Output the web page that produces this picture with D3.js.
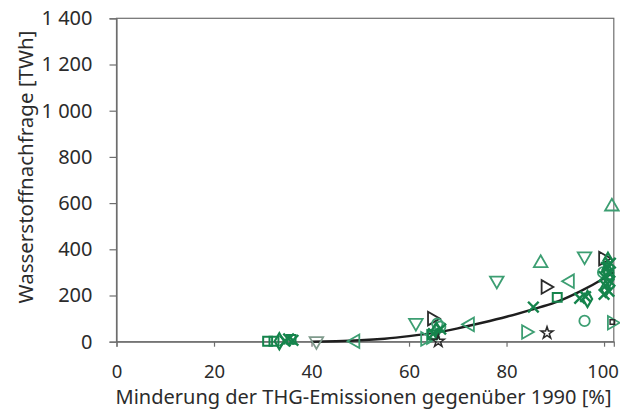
<!DOCTYPE html>
<html><head><meta charset="utf-8">
<script src="https://cdn.jsdelivr.net/npm/d3@7"></script>
<style>
html,body{margin:0;padding:0;background:#fff;}
svg{display:block;font-family:"Noto Sans",sans-serif;}
</style></head>
<body><svg id="c" width="620" height="416"></svg>
<script>
// ---- data ----
const xTicks = [0, 20, 40, 60, 80, 100];
const yTicks = [0, 200, 400, 600, 800, 1000, 1200, 1400];
const yTickLabels = ["0", "200", "400", "600", "800", "1\u00a0000", "1\u00a0200", "1\u00a0400"];
const xTitle = "Minderung der THG-Emissionen gegenüber 1990 [%]";
const yTitle = "Wasserstoffnachfrage [TWh]";

// marker series: [x (% reduction), y (TWh)]
const triUpGreen    = [[87, 340], [101.6, 585]];
const triDownGreen  = [[61.4, 82], [78, 265], [96, 370]];
const triDownGrey   = [[41, 3]];
const triLeftGreen  = [[49, 2], [72.5, 75], [93, 262]];
const triRightGreen = [[63.3, 12], [84, 42], [101.6, 82], [64.5, 20]];
const triRightBlack = [[64.7, 100], [88, 237], [99.8, 360]];
const circleGreen   = [[66.4, 65], [96, 90], [65.8, 78], [99.8, 300]];
const squareGreen   = [[31, 2], [32.3, 2], [90.4, 192], [64.8, 30], [101, 290], [35.8, 10]];
const timesGreen    = [[85.5, 150], [95, 188], [96.2, 195], [100, 205], [101, 218], [100.3, 242],
                       [101.2, 262], [100, 282], [101, 300], [100.5, 322], [101.3, 340],
                       [65, 35], [66.5, 55], [34.6, 3], [36.2, 6], [35.3, 12]];
const diamondGreen  = [[33.4, 2], [96.6, 185], [100.3, 230], [101, 270], [100.6, 310], [65.6, 48], [100.8, 350]];
const starBlack     = [[88.3, 38], [66, 2]];
const squareBlack   = [[101.7, 85]];

// trend curve
const trendX = [40, 45, 50, 55, 60, 65, 70, 75, 80, 85, 90, 95, 100, 102];
const trendY = [0, 2, 6, 13, 24, 38, 58, 82, 108, 138, 170, 217, 275, 302];

// ---- chart ----
const svg = d3.select("#c");
const x = d3.scaleLinear().domain([0, 102]).range([116.5, 613.8]);
const y = d3.scaleLinear().domain([0, 1400]).range([341.7, 18.3]);
const axisCol = "#6e6e6e", textCol = "#2b2b2b";

// frame
svg.append("rect").attr("x", x(0)).attr("y", y(1400))
  .attr("width", x(102) - x(0)).attr("height", y(0) - y(1400))
  .attr("fill", "none").attr("stroke", axisCol).attr("stroke-width", 1.2);

// y axis
const yAxis = svg.append("g").attr("transform", `translate(${x(0)},0)`)
  .call(d3.axisLeft(y).tickValues(yTicks).tickSize(7).tickPadding(17)
    .tickFormat((d, i) => yTickLabels[i]));
// x axis
const xAxis = svg.append("g").attr("transform", `translate(0,${y(0)})`)
  .call(d3.axisBottom(x).tickValues(xTicks).tickSize(5).tickPadding(18));
[[yAxis, 20], [xAxis, 18.5]].forEach(([g, fs]) => {
  g.select(".domain").attr("stroke", axisCol).attr("stroke-width", 1.2);
  g.selectAll(".tick line").attr("stroke", axisCol).attr("stroke-width", 1.2);
  g.selectAll("text").attr("fill", textCol).attr("font-size", fs)
    .attr("font-family", "'Noto Sans',sans-serif");
});
// keep the last x label inside the window
xAxis.selectAll(".tick text").filter(d => d === 100).attr("dx", -1.5);

// trend line
const trend = trendX.map((v, i) => [v, trendY[i]]);
svg.append("path").datum(trend)
  .attr("d", d3.line().x(d => x(d[0])).y(d => y(d[1])).curve(d3.curveMonotoneX))
  .attr("fill", "none").attr("stroke", "#1e1e1e").attr("stroke-width", 2.4);

// markers
const green = "#3c9e72", dkGreen = "#15844c", black = "#2a2a2a", grey = "#7f9a8c";
function drawSeries(data, type, size, rot, color, sw) {
  svg.append("g").selectAll("path").data(data).join("path")
    .attr("d", d3.symbol().type(type).size(size))
    .attr("transform", d => `translate(${x(d[0])},${y(d[1])}) rotate(${rot})`)
    .attr("fill", "none").attr("stroke", color).attr("stroke-width", sw);
}
drawSeries(triUpGreen, d3.symbolTriangle, 80, 0, green, 1.8);
drawSeries(triDownGreen, d3.symbolTriangle, 80, 180, green, 1.8);
drawSeries(triDownGrey, d3.symbolTriangle, 80, 180, grey, 1.8);
drawSeries(triLeftGreen, d3.symbolTriangle, 80, -90, green, 1.8);
drawSeries(triRightGreen, d3.symbolTriangle, 80, 90, green, 1.8);
drawSeries(triRightBlack, d3.symbolTriangle, 80, 90, black, 1.8);
drawSeries(circleGreen, d3.symbolCircle, 85, 0, green, 1.8);
drawSeries(squareGreen, d3.symbolSquare, 80, 0, dkGreen, 2);
drawSeries(diamondGreen, d3.symbolDiamond, 75, 0, dkGreen, 2.2);
drawSeries(timesGreen, d3.symbolTimes, 75, 0, dkGreen, 2.4);
drawSeries(starBlack, d3.symbolStar, 45, 0, black, 1.5);
drawSeries(squareBlack, d3.symbolSquare, 20, 0, black, 1.5);

// titles
svg.append("text").attr("x", (112 + 615) / 2).attr("y", 404)
  .attr("text-anchor", "middle").attr("fill", textCol).attr("font-size", 20)
  .text(xTitle);
svg.append("text").attr("transform", "translate(33,167) rotate(-90)")
  .attr("text-anchor", "middle").attr("fill", textCol).attr("font-size", 20.5)
  .text(yTitle);
</script></body></html>
